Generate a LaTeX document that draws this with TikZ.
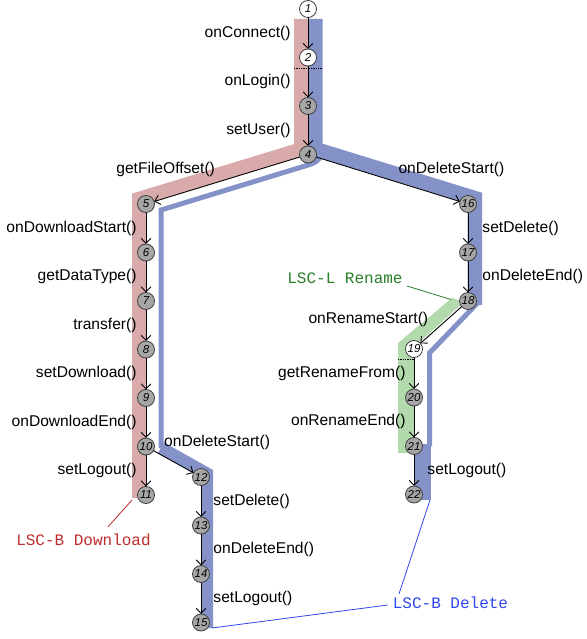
\documentclass[tikz,border=0pt]{standalone}
\usepackage{fontspec}
\setmainfont{Liberation Sans}
\setmonofont{Liberation Mono}
\usepackage{tikz}
\usetikzlibrary{positioning,arrows.meta,calc}

\definecolor{DL_BAND}{RGB}{216,170,170}
\definecolor{DEL_BAND}{RGB}{132,146,200}
\definecolor{REN_BAND}{RGB}{178,218,172}
\definecolor{DL_TEXT}{RGB}{190,45,45}
\definecolor{DEL_TEXT}{RGB}{45,70,240}
\definecolor{REN_TEXT}{RGB}{40,125,40}

\tikzstyle{st}=[circle, draw=black!75, line width=0.8pt, fill=black!35, minimum size=17pt, inner sep=0pt, outer sep=0pt, font=\fontsize{11.5}{12}\selectfont\itshape]
\tikzstyle{st_w}=[st, fill=white]
\tikzstyle{arr}=[-{Straight Barb[length=5pt,width=9.5pt]}, line width=0.9pt]
\tikzstyle{lbl}=[inner sep=0pt, font=\fontsize{15.6}{16}\selectfont]
\tikzstyle{note}=[inner sep=0pt, font=\fontsize{16}{16}\selectfont\ttfamily]
\tikzstyle{band}=[line join=miter, line cap=butt]

\begin{document}
\begin{tikzpicture}[x=1pt, y=-1pt, node distance=31.5pt]
      \useasboundingbox (0,0) rectangle (586,639);

      %%%%%%%%%%%%%%%%%%%%%%%%%%%%%%%%%%%%%%%%%%%%%%%%%
      % CHART BANDS
      %%%%%%%%%%%%%%%%%%%%%%%%%%%%%%%%%%%%%%%%%%%%%%%%%
      % download
      \draw[band, DL_BAND, line width=14pt] (301,19) -- (301,149.3) -- (139,198.8) -- (139,498);
      % delete
      \draw[band, DEL_BAND, line width=14.5pt] (315.3,19) -- (315.3,149) -- (474.8,198.1) -- (474.8,305);
      \draw[band, DEL_BAND, line width=5pt] (320.5,145) -- (320.5,154) to[out=-90,in=17] (305,166) -- (161,210) -- (161,448);
      \draw[band, DEL_BAND, line width=12pt] (161,447.6) -- (207,473.5) -- (207,628);
      \draw[band, DEL_BAND, line width=5pt] (477.5,303) -- (429.5,353) -- (429.5,446);
      \draw[band, DEL_BAND, line width=17pt] (422.5,444) -- (422.5,500);
      % rename
      \fill[REN_BAND] (398,453) -- (398,343) -- (452,298) -- (464,302) -- (414,347) -- (414,453) -- cycle;

      \draw[densely dotted, line width=0.7pt] (294,68) -- (322,68);
      \draw[densely dotted, line width=0.7pt] (398,359) -- (414,359);

      %%%%%%%%%%%%%%%%%%%%%%%%%%%%%%%%%%%%%%%%%%%%%%%%%
      % STATES
      %%%%%%%%%%%%%%%%%%%%%%%%%%%%%%%%%%%%%%%%%%%%%%%%%
      % login
      \node[st_w] (n1) at (308,9) {1};
      \node[st_w, below=of n1] (n2) {2};
      \node[st, below=of n2] (n3) {3};
      \node[st, below=of n3] (n4) {4};

      % download
      \node[st] (n5) at (146,204) {5};
      \foreach \i [count=\j from 5] in {6,...,11}
        \node[st, below=of n\j] (n\i) {\i};

      % delete after download
      \node[st] (n12) at (201,477) {12};
      \foreach \i [count=\j from 12] in {13,...,15}
        \node[st, below=of n\j] (n\i) {\i};

      % delete
      \node[st] (n16) at (468,204) {16};
      \node[st, below=of n16] (n17) {17};
      \node[st, below=of n17] (n18) {18};

      % rename
      \node[st_w] (n19) at (414,349) {19};
      \foreach \i [count=\j from 19] in {20,...,22}
        \node[st, below=of n\j] (n\i) {\i};

      %%%%%%%%%%%%%%%%%%%%%%%%%%%%%%%%%%%%%%%%%%%%%%%%%
      % TRANSITIONS
      %%%%%%%%%%%%%%%%%%%%%%%%%%%%%%%%%%%%%%%%%%%%%%%%%
      \draw[arr] (n1) -- node[lbl, left=17pt] {onConnect()} (n2);
      \draw[arr] (n2) -- node[lbl, left=17pt] {onLogin()} (n3);
      \draw[arr] (n3) -- node[lbl, left=17pt] {setUser()} (n4);
      \draw[arr] (n4) -- node[lbl, pos=0.58, anchor=east, yshift=13pt] {getFileOffset()} (n5);
      \draw[arr] (n4) -- node[lbl, pos=0.57, anchor=west, yshift=13.4pt] {onDeleteStart()} (n16);

      \draw[arr] (n5) -- node[lbl, left=9pt] {onDownloadStart()} (n6);
      \draw[arr] (n6) -- node[lbl, left=9pt] {getDataType()} (n7);
      \draw[arr] (n7) -- node[lbl, left=9pt] {transfer()} (n8);
      \draw[arr] (n8) -- node[lbl, left=9pt] {setDownload()} (n9);
      \draw[arr] (n9) -- node[lbl, left=9pt] {onDownloadEnd()} (n10);
      \draw[arr] (n10) -- node[lbl, left=9pt] {setLogout()} (n11);

      \draw[arr] (n10) -- (n12);
      \node[lbl, right=9.5pt of n10, yshift=4pt] (l10) {onDeleteStart()};
      \draw[arr] (n12) -- node[lbl, right=12pt] {setDelete()} (n13);
      \draw[arr] (n13) -- node[lbl, right=12pt] {onDeleteEnd()} (n14);
      \draw[arr] (n14) -- node[lbl, right=12pt] {setLogout()} (n15);

      \draw[arr] (n16) -- node[lbl, right=14pt] {setDelete()} (n17);
      \draw[arr] (n17) -- node[lbl, right=14pt] {onDeleteEnd()} (n18);
      \draw[arr] (n18) -- node[lbl, pos=0.34, left=19pt] {onRenameStart()} (n19);
      \draw[arr] (n19) -- node[lbl, left=8pt] {getRenameFrom()} (n20);
      \draw[arr] (n20) -- node[lbl, left=8pt] {onRenameEnd()} (n21);
      \draw[arr] (n21) -- node[lbl, right=13pt] {setLogout()} (n22);

      %%%%%%%%%%%%%%%%%%%%%%%%%%%%%%%%%%%%%%%%%%%%%%%%%
      % CHART NAMES
      %%%%%%%%%%%%%%%%%%%%%%%%%%%%%%%%%%%%%%%%%%%%%%%%%
      \node[note, text=DL_TEXT] (ldl) at (83.5,540) {LSC-B Download};
      \node[note, text=REN_TEXT] (lren) at (345,278) {LSC-L Rename};
      \node[note, text=DEL_TEXT] (ldel) at (450.5,603) {LSC-B Delete};

      \coordinate (dlend) at ($(n11)+(-14,5)$);
      \coordinate (renend) at ($(n18)+(-17,-1.5)$);
      \coordinate (delA) at ($(n15)+(11,5.5)$);
      \coordinate (delB) at ($(n22)+(16,5.5)$);

      \draw[DL_TEXT, line width=0.8pt] (dlend) -- ([xshift=24.5pt,yshift=7pt]ldl.north);
      \draw[REN_TEXT, line width=0.8pt] ([shift={(4pt,-8pt)}]lren.east) -- (renend);
      \draw[DEL_TEXT, line width=0.8pt] (delA) -- ([xshift=-5pt,yshift=-2pt]ldel.west);
      \draw[DEL_TEXT, line width=0.8pt] (delB) -- ([xshift=-51.5pt,yshift=3pt]ldel.north);
\end{tikzpicture}
\end{document}
